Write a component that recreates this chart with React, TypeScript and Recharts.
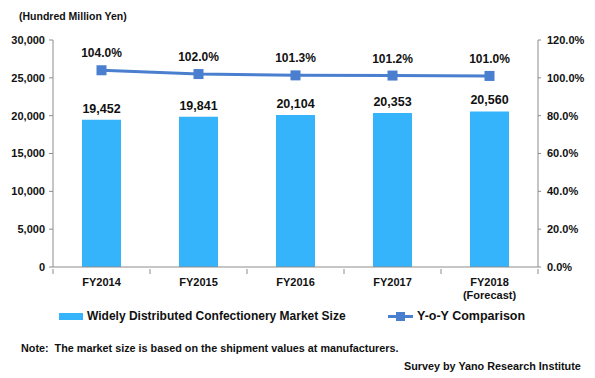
import React from "react";
import {
  ComposedChart,
  Bar,
  Line,
  XAxis,
  YAxis,
  LabelList,
} from "recharts";

const years = ["FY2014", "FY2015", "FY2016", "FY2017", "FY2018"];
const yearNotes = ["", "", "", "", "(Forecast)"];
const marketSize = [19452, 19841, 20104, 20353, 20560];
const yoy = [104.0, 102.0, 101.3, 101.2, 101.0];
const leftTicks = [0, 5000, 10000, 15000, 20000, 25000, 30000];
const rightTicks = [0, 20, 40, 60, 80, 100, 120];

const data = years.map((y, i) => ({
  year: y,
  size: marketSize[i],
  yoy: yoy[i],
}));

const FONT = "'Liberation Sans', Arial, sans-serif";
const BAR_COLOR = "#35B4FC";
const LINE_COLOR = "#4A7ECF";
const AXIS_COLOR = "#8C8C8C";
const TEXT = "#111";

const W = 595;
const LEFT_W = 53;
const RIGHT_W = 57;
const BAND = (W - LEFT_W - RIGHT_W) / years.length;

function XTick(props: any) {
  const { x, y, payload, index } = props;
  const note = yearNotes[index];
  return (
    <g>
      <line x1={x + BAND / 2} y1={y - 6} x2={x + BAND / 2} y2={y - 1} stroke={AXIS_COLOR} />
      {index === 0 && (
        <line x1={x - BAND / 2} y1={y - 6} x2={x - BAND / 2} y2={y - 1} stroke={AXIS_COLOR} />
      )}
      <text x={x} y={y + 11} textAnchor="middle" fontFamily={FONT} fontSize={11} fontWeight="bold" fill={TEXT}>
        {payload.value}
      </text>
      {note && (
        <text x={x} y={y + 24} textAnchor="middle" fontFamily={FONT} fontSize={11} fontWeight="bold" fill={TEXT}>
          {note}
        </text>
      )}
    </g>
  );
}

function SquareDot(props: any) {
  const { cx, cy } = props;
  if (cx == null || cy == null) return null;
  return <rect x={cx - 5} y={cy - 5} width={10} height={10} fill={LINE_COLOR} />;
}

export default function App() {
  return (
    <div style={{ position: "absolute", left: 0, top: 0, width: W, height: 378, background: "#fff", fontFamily: FONT, color: TEXT }}>
      <div style={{ position: "absolute", left: 19, top: 10, fontSize: 10.5, fontWeight: "bold" }}>
        (Hundred Million Yen)
      </div>
      <ComposedChart
        width={W}
        height={310}
        data={data}
        margin={{ top: 40, right: 0, bottom: 10, left: 0 }}
      >
        <XAxis
          dataKey="year"
          axisLine={{ stroke: AXIS_COLOR }}
          tickLine={false}
          tick={<XTick />}
          interval={0}
          height={33}
        />
        <YAxis
          yAxisId="left"
          width={LEFT_W}
          domain={[0, 30000]}
          ticks={leftTicks}
          axisLine={{ stroke: AXIS_COLOR }}
          tickLine={{ stroke: AXIS_COLOR }}
          tickSize={4}
          tickMargin={4}
          tick={{ fontFamily: FONT, fontSize: 11, fontWeight: "bold", fill: TEXT }}
          tickFormatter={(v: number) => v.toLocaleString("en-US")}
        />
        <YAxis
          yAxisId="right"
          orientation="right"
          width={RIGHT_W}
          domain={[0, 120]}
          ticks={rightTicks}
          axisLine={{ stroke: AXIS_COLOR }}
          tickLine={{ stroke: AXIS_COLOR }}
          tickSize={3}
          tickMargin={6}
          tick={{ fontFamily: FONT, fontSize: 11, fontWeight: "bold", fill: TEXT }}
          tickFormatter={(v: number) => v.toFixed(1) + "%"}
        />
        <Bar yAxisId="left" dataKey="size" fill={BAR_COLOR} barSize={39} isAnimationActive={false}>
          <LabelList
            dataKey="size"
            position="top"
            offset={7}
            formatter={(v: any) => Number(v).toLocaleString("en-US")}
            style={{ fontFamily: FONT, fontSize: 12.5, fontWeight: "bold", fill: TEXT }}
          />
        </Bar>
        <Line
          yAxisId="right"
          dataKey="yoy"
          stroke={LINE_COLOR}
          strokeWidth={3}
          dot={<SquareDot />}
          activeDot={false}
          isAnimationActive={false}
        >
          <LabelList
            dataKey="yoy"
            position="top"
            offset={13}
            formatter={(v: any) => Number(v).toFixed(1) + "%"}
            style={{ fontFamily: FONT, fontSize: 12, fontWeight: "bold", fill: TEXT }}
          />
        </Line>
      </ComposedChart>
      <div style={{ position: "absolute", left: 59, top: 308, height: 16, display: "flex", alignItems: "center", fontSize: 12, fontWeight: "bold", whiteSpace: "nowrap" }}>
        <span style={{ display: "inline-block", width: 24, height: 7, background: BAR_COLOR, marginRight: 4 }} />
        <span>Widely Distributed Confectionery Market Size</span>
      </div>
      <div style={{ position: "absolute", left: 388, top: 308, height: 16, display: "flex", alignItems: "center", fontSize: 12.5, fontWeight: "bold", whiteSpace: "nowrap" }}>
        <span style={{ display: "inline-block", position: "relative", width: 25, height: 9, marginRight: 4 }}>
          <span style={{ position: "absolute", left: 0, top: 3, width: 25, height: 3, background: LINE_COLOR }} />
          <span style={{ position: "absolute", left: 8, top: 0, width: 9, height: 9, background: LINE_COLOR }} />
        </span>
        <span>Y-o-Y Comparison</span>
      </div>
      <div style={{ position: "absolute", left: 21, top: 342, fontSize: 10.8, fontWeight: "bold", whiteSpace: "pre" }}>
        {"Note:  The market size is based on the shipment values at manufacturers."}
      </div>
      <div style={{ position: "absolute", left: 404, top: 360, fontSize: 10.8, fontWeight: "bold", whiteSpace: "nowrap" }}>
        Survey by Yano Research Institute
      </div>
    </div>
  );
}
